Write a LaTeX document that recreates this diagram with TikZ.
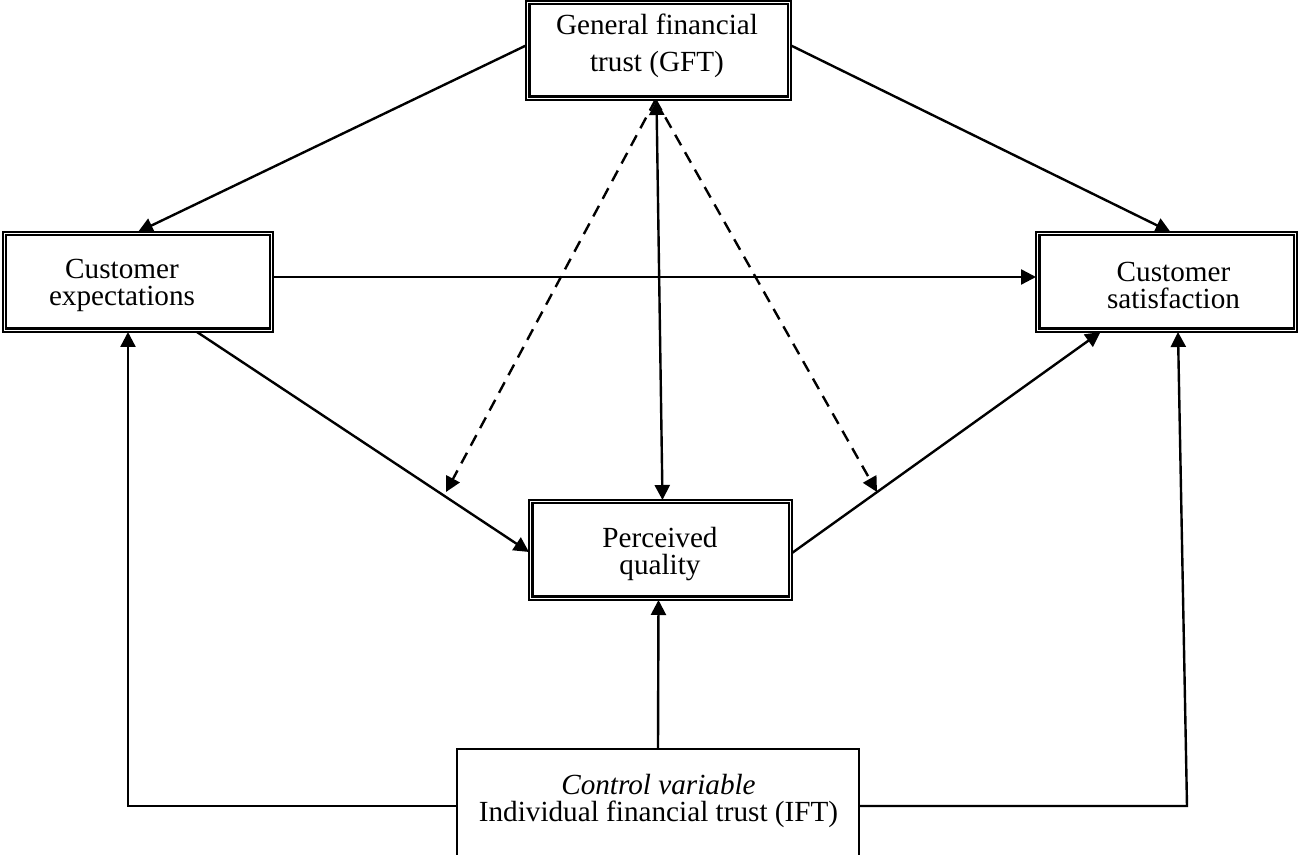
\documentclass[tikz,border=0pt]{standalone}
\usepackage{fontspec}
\setmainfont{Liberation Serif}
\usetikzlibrary{arrows.meta,calc}
\begin{document}
\begin{tikzpicture}[x=0.5pt,y=-0.5pt,
  box/.style={rectangle,draw=none,inner sep=0pt,outer sep=0pt},
  txt/.style={inner sep=0pt,align=center,font=\fontsize{14.6pt}{13.5pt}\selectfont},
  arr/.style={line width=1.2pt,-{Triangle[length=7.5pt,width=7.5pt]}},
  darr/.style={line width=1.2pt,{Triangle[length=7.5pt,width=7.5pt]}-{Triangle[length=7.5pt,width=7.5pt]}},
  dasharr/.style={line width=1.2pt,dash pattern=on 6pt off 4pt,-{Triangle[length=7.5pt,width=7.5pt]}}]
\useasboundingbox (0,0) rectangle (1298,855);
% boxes
\node[box,minimum width=132.5pt,minimum height=49.5pt] (gft) at (658.5,50.5) {};
\node[box,minimum width=135pt,minimum height=50pt] (ce) at (138,282) {};
\node[box,minimum width=130.5pt,minimum height=50pt] (cs) at (1166.5,282) {};
\node[box,minimum width=131.5pt,minimum height=50pt] (pq) at (660.5,550) {};
\node[box,draw,line width=0.9pt,minimum width=201pt,minimum height=55.5pt] (ift) at (658,804.5) {};
\foreach \n in {gft,ce,cs,pq}{
  \draw[line width=0.6pt] (\n.north west) rectangle (\n.south east);
  \draw[line width=1.3pt] ($(\n.north west)+(3.2,3.2)$) rectangle ($(\n.south east)+(-3.2,-3.2)$);
}
% texts
\node[txt,font=\fontsize{14.6pt}{18.5pt}\selectfont] (gftt) at (657,45.5) {General financial\\trust (GFT)};
\node[txt] (cet) at (122,285.5) {Customer\\expectations};
\node[txt] (cst) at (1173.5,285.5) {Customer\\satisfaction};
\node[txt] (pqt) at (660,554) {Perceived\\quality};
\node[txt] (iftt) at (658.5,801) {\textit{Control variable}\\Individual financial trust (IFT)};
% coordinates
\coordinate (dl) at (446,492);
\coordinate (dr) at (877,492);
\coordinate (cl) at (128,806);
\coordinate (cr) at (1187,806);
% connectors
\draw[arr] ($(gft.west)+(0,-5)$) -- (ce.north);
\draw[arr] ($(gft.east)+(0,-5)$) -- ($(cs.north)+(4,0)$);
\draw[arr] ($(ce.east)+(0,-5)$) -- ($(cs.west)+(0,-5)$);
\draw[arr] ($(ce.south)+(59,0)$) -- ($(pq.west)+(0,2)$);
\draw[arr] ($(pq.east)+(0,3)$) -- ($(cs.south)+(-66,0)$);
\draw[darr] ($(gft.south)+(-2,0)$) -- ($(pq.north)+(2,0)$);
\draw[dasharr] ($(gft.south)+(-3,0)$) -- (dl);
\draw[dasharr] ($(gft.south)+(-3,0)$) -- (dr);
\draw[arr] (ift.north) -- ($(pq.south)+(-2,0)$);
\draw[arr] ($(ift.west)+(0,1.5)$) -- (cl) -- (cl |- ce.south);
\draw[arr] ($(ift.east)+(0,1.5)$) -- (cr) -- ($(cs.south)+(11.5,0)$);
\end{tikzpicture}
\end{document}
